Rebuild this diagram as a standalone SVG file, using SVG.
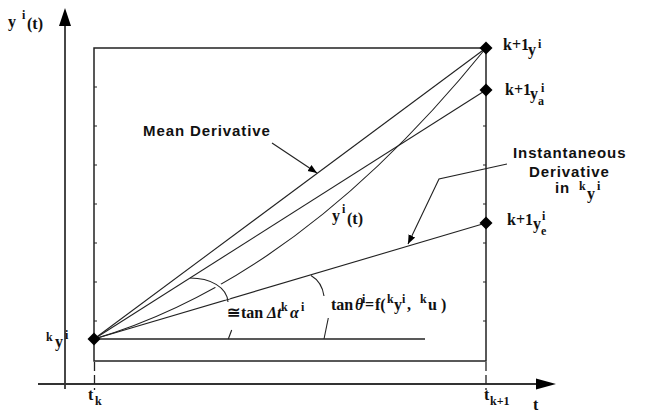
<svg xmlns="http://www.w3.org/2000/svg" width="653" height="419" viewBox="0 0 653 419">
<style>
.ax{stroke:#333;stroke-width:1.8;fill:none}
.fr{stroke:#222;stroke-width:1.5;fill:none}
.ln{stroke:#222;stroke-width:1.1;fill:none}
.tk{stroke:#222;stroke-width:1.2}
.dash{stroke:#222;stroke-width:1.3;stroke-dasharray:9,4}
.halo{stroke:#fff;stroke-width:6;fill:none}
.dot{fill:#000}
.m{font-family:"Liberation Serif","DejaVu Serif",serif;font-weight:bold;font-size:16px;fill:#111}
.s{font-size:12px}
.it{font-style:italic}
.lb{font-family:"Liberation Sans",Arial,sans-serif;font-weight:bold;font-size:15px;letter-spacing:0.9px;fill:#111}
</style>
<defs>
<marker id="ah" viewBox="0 0 10 10" refX="10" refY="5" markerWidth="9" markerHeight="9" markerUnits="userSpaceOnUse" orient="auto"><path d="M0,1 L10,5 L0,9 z" fill="#000"/></marker>
</defs>
<g id="axes">
<line class="ax" x1="65" y1="24" x2="65" y2="389"/>
<polygon points="65,8 59,26 71,26" fill="#000"/>
<line class="ax" x1="38" y1="384" x2="538" y2="384"/>
<polygon points="556,384 536,378.5 536,389.5" fill="#000"/>
<text class="m" x="8" y="27" font-size="18">y</text>
<text class="m s" x="22" y="19">i</text>
<text class="m" x="27" y="29" font-size="14">(t)</text>
<text class="m" x="533" y="410">t</text>
</g>
<g id="frame">
<rect class="fr" x="94" y="48" width="392" height="313"/>
<path class="tk" d="M94,87h3M94,126h3M94,165h3M94,204h3M94,243h3M94,282h3M94,321h3"/>
<path class="tk" d="M486,126h-3M486,165h-3M486,204h-3M486,243h-3M486,282h-3M486,321h-3"/>
<line class="dash" x1="94.5" y1="362" x2="94.5" y2="390"/>
<line class="dash" x1="486" y1="362" x2="486" y2="390"/>
<line class="fr" x1="94" y1="339" x2="425" y2="339"/>
<text class="m" x="88" y="400">t</text>
<text class="m s" x="95" y="405">k</text>
<text class="m" x="484" y="400">t</text>
<text class="m s" x="490" y="405">k+1</text>
</g>
<g id="connectors">
<line class="ln" x1="94" y1="339" x2="486" y2="223"/>
<path class="ln" d="M94,339 Q300,278 486,48"/>
<path class="halo" d="M200,278.5 C214,280 225,289 227.5,299"/>
<path class="ln" d="M190,278 C210,278 227,287 228,302"/>
<path class="ln" d="M311,275.5 Q322,282 324,296"/>
<line class="ln" x1="94" y1="339" x2="486" y2="48"/>
<line class="ln" x1="94" y1="339" x2="486" y2="90"/>
<line class="ln" x1="231.7" y1="330" x2="228.3" y2="339"/>
<line class="ln" x1="328.3" y1="318" x2="324" y2="339"/>
<line class="ln" x1="272" y1="143" x2="317" y2="173" marker-end="url(#ah)"/>
<polyline class="ln" points="507,164 439,179 408,244" marker-end="url(#ah)"/>
</g>
<g id="node-start">
<polygon class="dot" points="94,332.5 100.5,339 94,345.5 87.5,339"/>
<text class="m s" x="46" y="341">k</text>
<text class="m" x="55" y="347">y</text>
<text class="m s" x="65" y="339">i</text>
</g>
<g id="node-end">
<polygon class="dot" points="486,41.5 492.5,48 486,54.5 479.5,48"/>
<text class="m" x="503" y="50" font-size="14">k+1</text>
<text class="m" x="528" y="55">y</text>
<text class="m s" x="538" y="48">i</text>
</g>
<g id="node-ya">
<polygon class="dot" points="486,83.5 492.5,90 486,96.5 479.5,90"/>
<text class="m" x="505" y="95" font-size="14">k+1</text>
<text class="m" x="530" y="99">y</text>
<text class="m s" x="538" y="105">a</text>
<text class="m s" x="541" y="92">i</text>
</g>
<g id="node-ye">
<polygon class="dot" points="486,216.5 492.5,223 486,229.5 479.5,223"/>
<text class="m" x="507" y="225" font-size="14">k+1</text>
<text class="m" x="533" y="229">y</text>
<text class="m s" x="541" y="235">e</text>
<text class="m s" x="542" y="220">i</text>
</g>
<g id="label-mean">
<text class="lb" x="143" y="136">Mean Derivative</text>
</g>
<g id="label-inst">
<text class="lb" x="513" y="158">Instantaneous</text>
<text class="lb" x="529" y="177">Derivative</text>
<text class="lb" x="555" y="193">in</text>
<text class="m s" x="579" y="190">k</text>
<text class="m" x="587" y="199">y</text>
<text class="m s" x="597" y="190">i</text>
</g>
<g id="label-curve">
<text class="m" x="332" y="221">y</text>
<text class="m s" x="342" y="213">i</text>
<text class="m" x="347" y="224" font-size="14">(t)</text>
</g>
<g id="label-alpha">
<text class="m" x="227" y="318">≅</text>
<text class="m" x="241" y="318">tan</text>
<text class="m it" x="267" y="318" font-size="10">Δt</text>
<text class="m s" x="281" y="311">k</text>
<text class="m it" x="290" y="318">α</text>
<text class="m s" x="301" y="311">i</text>
</g>
<g id="label-theta">
<text class="m" x="331" y="310">tan</text>
<text class="m it" x="355" y="310">θ</text>
<text class="m s" x="362" y="303">i</text>
<text class="m" x="365" y="310">=</text>
<text class="m" x="375" y="310">f(</text>
<text class="m s" x="387" y="303">k</text>
<text class="m" x="394" y="310">y</text>
<text class="m s" x="402" y="303">i</text>
<text class="m" x="407" y="310">,</text>
<text class="m s" x="420" y="303">k</text>
<text class="m" x="428" y="310">u</text>
<text class="m" x="441" y="310">)</text>
</g>
</svg>
